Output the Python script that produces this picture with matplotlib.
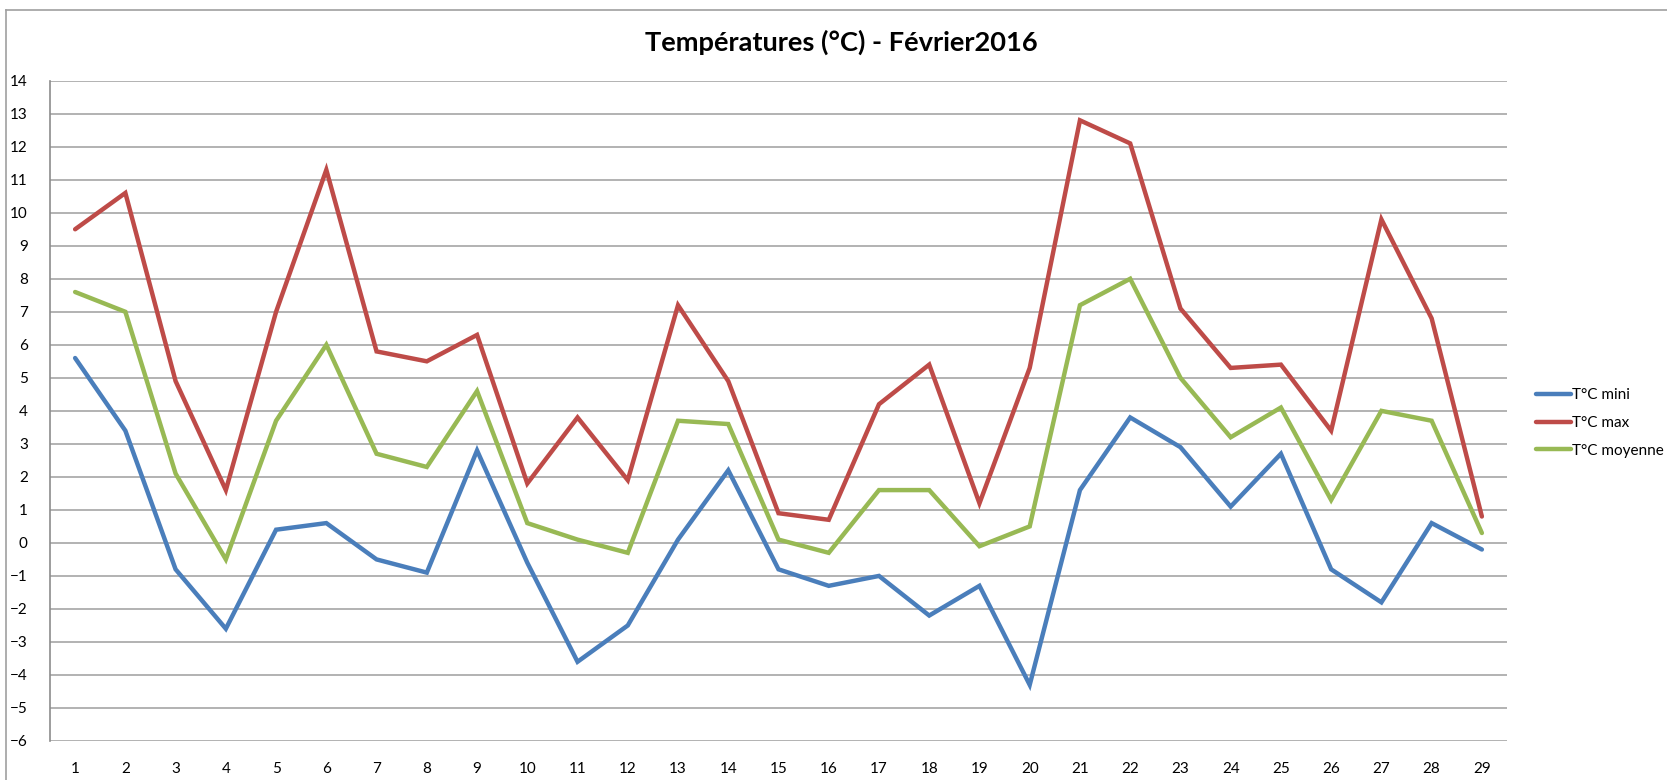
import matplotlib
matplotlib.use("Agg")
import matplotlib.pyplot as plt
from matplotlib.lines import Line2D

plt.rcParams['font.family'] = ['Lato', 'DejaVu Sans']

days = list(range(1, 30))
t_mini = [5.6, 3.4, -0.8, -2.6, 0.4, 0.6, -0.5, -0.9, 2.8, -0.6, -3.6, -2.5, 0.1, 2.2,
          -0.8, -1.3, -1.0, -2.2, -1.3, -4.3, 1.6, 3.8, 2.9, 1.1, 2.7, -0.8, -1.8, 0.6, -0.2]
t_max = [9.5, 10.6, 4.9, 1.6, 7.0, 11.3, 5.8, 5.5, 6.3, 1.8, 3.8, 1.9, 7.2, 4.9,
         0.9, 0.7, 4.2, 5.4, 1.2, 5.3, 12.8, 12.1, 7.1, 5.3, 5.4, 3.4, 9.8, 6.8, 0.8]
t_moy = [7.6, 7.0, 2.1, -0.5, 3.7, 6.0, 2.7, 2.3, 4.6, 0.6, 0.1, -0.3, 3.7, 3.6,
         0.1, -0.3, 1.6, 1.6, -0.1, 0.5, 7.2, 8.0, 5.0, 3.2, 4.1, 1.3, 4.0, 3.7, 0.3]
series_names = ["T°C mini", "T°C max", "T°C moyenne"]
colors = ["#4A7EBB", "#BE4B48", "#98B954"]
title = "Températures (°C) - Février2016"
yticks = list(range(-6, 15))

W, H = 1667, 780
fig = plt.figure(figsize=(W / 100, H / 100), dpi=100)
ax = fig.add_axes([50 / W, 1 - 741 / H, (1507 - 50) / W, (741 - 80.7) / H])

for vals, name, c in zip([t_mini, t_max, t_moy], series_names, colors):
    ax.plot(days, vals, color=c, lw=3.2, label=name, solid_capstyle='round',
            solid_joinstyle='miter')

ax.set_xlim(0.5, 29.5)
ax.set_ylim(-6, 14)
ax.set_yticks(yticks)
ax.set_xticks(days)
ax.set_xticklabels([str(d) for d in days])
ax.yaxis.grid(True, color="#A6A6A6", lw=1.2)
ax.set_axisbelow(True)
for s in ["top", "right", "bottom"]:
    ax.spines[s].set_visible(False)
ax.spines["left"].set_color("#8C8C8C")
ax.spines["left"].set_linewidth(1.2)
ax.tick_params(axis='both', length=0, labelsize=11, colors="black")
ax.tick_params(axis='y', pad=16)
ax.tick_params(axis='x', pad=15)

fig.text(841 / W, 1 - 42 / H, title, ha='center', va='center',
         fontsize=19.6, fontweight='bold')

# legend
handles = [Line2D([0], [0], color=c, lw=3.2, solid_capstyle='round') for c in colors]
leg = fig.legend(handles, series_names, loc='center left',
                 bbox_to_anchor=(1522 / W, 1 - 423 / H), frameon=False,
                 fontsize=11, handlelength=2.3, handletextpad=0.1,
                 labelspacing=0.9)

# chart border (left and top)
fig.add_artist(Line2D([6 / W, 6 / W], [0, 1 - 10 / H], color="#A0A0A0", lw=1.2,
                      transform=fig.transFigure))
fig.add_artist(Line2D([6 / W, 1], [1 - 10 / H, 1 - 10 / H], color="#A0A0A0", lw=1.2,
                      transform=fig.transFigure))

fig.savefig("out.png", dpi=100)
